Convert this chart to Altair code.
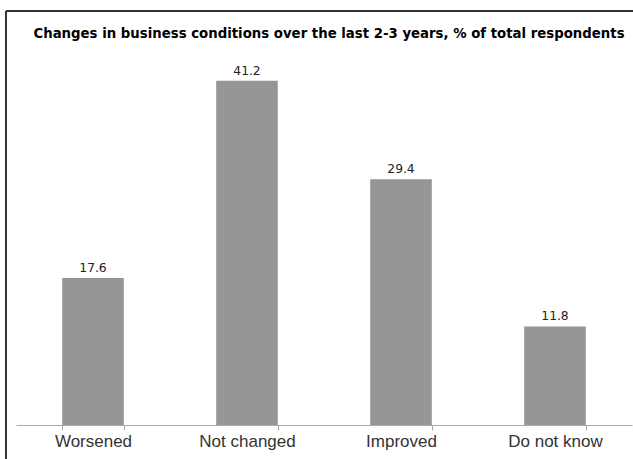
import altair as alt
import pandas as pd

categories = ["Worsened", "Not changed", "Improved", "Do not know"]
values = [17.6, 41.2, 29.4, 11.8]
title_text = "Changes in business conditions over the last 2-3 years, % of total respondents"

df = pd.DataFrame({"cat": categories, "val": values})

W = 616
H = 376

base = alt.Chart(df).encode(
    x=alt.X("cat:N", sort=categories, title=None,
            scale=alt.Scale(paddingInner=0.6, paddingOuter=0.3),
            axis=alt.Axis(labelAngle=0, labelFont="Liberation Sans", labelFontSize=17,
                          labelColor="#333333", domainColor="#aaaaaa", tickColor="#aaaaaa",
                          tickBand="extent", tickSize=5, labelPadding=3, domainWidth=1)),
    y=alt.Y("val:Q", scale=alt.Scale(domain=[0, 45]), axis=None),
)

bars = base.mark_bar(color="#969696")
labels = base.mark_text(dy=-6, baseline="alphabetic", font="DejaVu Sans", fontSize=12.3,
                        color="#222222").encode(text=alt.Text("val:Q", format=".1f"))

frame_left = alt.Chart(df).mark_rule(color="#333333", strokeWidth=1.5).encode(
    x=alt.value(-10), y=alt.value(-38), y2=alt.value(H + 60))
frame_top = alt.Chart(df).mark_rule(color="#333333", strokeWidth=1.5).encode(
    x=alt.value(-10), x2=alt.value(W + 40), y=alt.value(-38))

chart = alt.layer(frame_left, frame_top, bars, labels).properties(
    width=W, height=H,
    title=alt.TitleParams(title_text, font="DejaVu Sans", fontSize=13.3, fontWeight="bold",
                          color="#000000", anchor="middle", offset=12, dy=42, dx=5),
    autosize=alt.AutoSizeParams(type="none"),
    padding={"left": 16, "top": 49, "right": 1, "bottom": 34},
).configure_view(stroke=None)

chart.save("out.html", embed_options={"renderer": "svg", "actions": False})
